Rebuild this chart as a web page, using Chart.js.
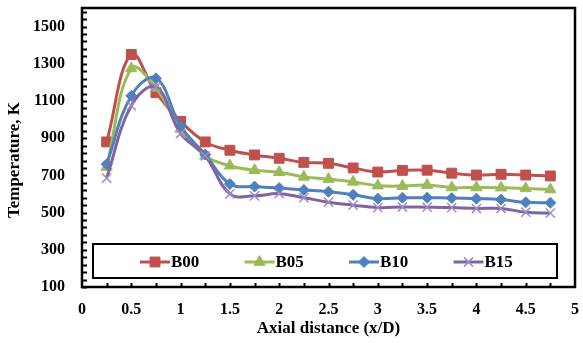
<!DOCTYPE html>
<html><head><meta charset="utf-8">
<script src="https://cdn.jsdelivr.net/npm/chart.js@4.4.0/dist/chart.umd.min.js"></script>
<style>html,body{margin:0;padding:0;background:#fff}</style>
</head><body>
<canvas id="c" width="583" height="343"></canvas>
<script>
// ---- data ----
const xValues = [0.25,0.5,0.75,1,1.25,1.5,1.75,2,2.25,2.5,2.75,3,3.25,3.5,3.75,4,4.25,4.5,4.75];
const B00 = [880,1350,1145,990,880,835,810,792,770,765,740,718,727,728,712,702,706,702,697];
const B05 = [745,1275,1170,950,805,752,728,717,692,680,665,645,643,648,635,635,634,630,624];
const B10 = [760,1128,1222,965,812,654,640,632,622,612,596,575,580,580,578,575,570,555,553];
const B15 = [686,1075,1175,925,805,601,590,602,580,556,540,527,530,529,527,522,522,502,497];
const seriesNames = ['B00','B05','B10','B15'];
const xTickLabels = [0,0.5,1,1.5,2,2.5,3,3.5,4,4.5,5];
const yTickLabels = [100,300,500,700,900,1100,1300,1500];
const xTitle = 'Axial distance (x/D)';
const yTitle = 'Temperature, K';

const FONT = 'Liberation Serif';
const toPts = arr => arr.map((v,i)=>({x:xValues[i], y:v}));

const styles = [
  {color:'#C0504D', pointStyle:'rect', radius:7, bw:1, pc:'#C0504D'},
  {color:'#9BBB59', pointStyle:'triangle', radius:6.5, bw:1, pc:'#9BBB59'},
  {color:'#4F81BD', pointStyle:'rectRot', radius:5.5, bw:1, pc:'#4F81BD'},
  {color:'#8064A2', pointStyle:'crossRot', radius:6.5, bw:1.5, pc:'#A08CC8'}
];
const allSeries = [B00,B05,B10,B15];

const datasets = allSeries.map((s,i)=>({
  label: seriesNames[i],
  data: toPts(s),
  borderColor: styles[i].color,
  backgroundColor: styles[i].color,
  borderWidth: 3,
  tension: 0.4,
  pointStyle: styles[i].pointStyle,
  pointRadius: styles[i].radius,
  pointBorderWidth: styles[i].bw,
  pointBackgroundColor: styles[i].pc,
  pointBorderColor: styles[i].pc,
  pointHoverRadius: styles[i].radius
})).reverse();

const framePlugin = {
  id:'frame',
  beforeDatasetsDraw(chart){
    const {ctx, chartArea:a, scales:{x,y}} = chart;
    ctx.save();
    ctx.strokeStyle = '#000';
    ctx.lineWidth = 2;
    for (let v=100; v<1600; v+=40){
      const py = Math.round(y.getPixelForValue(v))+0.5;
      ctx.beginPath(); ctx.moveTo(a.left, py); ctx.lineTo(a.left+5, py); ctx.stroke();
    }
    for (let v=0.25; v<5; v+=0.25){
      const px = Math.round(x.getPixelForValue(v))+0.5;
      ctx.beginPath(); ctx.moveTo(px, a.bottom); ctx.lineTo(px, a.bottom-4); ctx.stroke();
    }
    ctx.lineWidth = 2.5;
    ctx.strokeRect(a.left, a.top, a.right-a.left, a.bottom-a.top);
    ctx.fillStyle = '#000';
    ctx.font = 'bold 17px "'+FONT+'"';
    ctx.textAlign = 'center'; ctx.textBaseline = 'middle';
    ctx.translate(15, 160); ctx.rotate(-Math.PI/2);
    ctx.fillText(yTitle, 0, 0);
    ctx.restore();
  },
  afterDatasetsDraw(chart){
    const {ctx} = chart;
    ctx.save();
    ctx.fillStyle = '#fff';
    ctx.strokeStyle = '#000';
    ctx.lineWidth = 2;
    ctx.fillRect(93,244,464,34);
    ctx.strokeRect(93,244,464,34);
    const cy = 262;
    ctx.font = 'bold 17px "'+FONT+'"';
    ctx.textAlign = 'left'; ctx.textBaseline = 'middle';
    const ds = chart.data.datasets.slice().reverse();
    ds.forEach((d,i)=>{
      const x0 = 140 + i*104.5;
      ctx.strokeStyle = d.borderColor; ctx.lineWidth = 3;
      ctx.beginPath(); ctx.moveTo(x0, cy); ctx.lineTo(x0+30, cy); ctx.stroke();
      ctx.fillStyle = d.pointBackgroundColor; ctx.strokeStyle = d.pointBorderColor;
      ctx.lineWidth = d.pointBorderWidth;
      Chart.helpers.drawPoint(ctx, {pointStyle:d.pointStyle, radius:d.pointRadius, rotation:0, borderWidth:d.pointBorderWidth}, x0+15, cy);
      ctx.fillStyle = '#000';
      ctx.fillText(d.label, x0+31, cy+1);
    });
    ctx.restore();
  }
};

new Chart(document.getElementById('c'), {
  type:'line',
  data:{datasets},
  options:{
    responsive:false,
    animation:false,
    devicePixelRatio:1,
    layout:{padding:{top:5,right:6,left:0,bottom:0}},
    plugins:{legend:{display:false}, tooltip:{enabled:false}},
    scales:{
      x:{
        type:'linear', min:0, max:5,
        afterBuildTicks(s){ s.ticks = xTickLabels.map(v=>({value:v})); },
        afterFit(s){ s.height = 56; s.paddingLeft = 0; s.paddingRight = 0; },
        grid:{display:false, drawTicks:false},
        border:{display:false},
        ticks:{color:'#000', padding:13, maxRotation:0, autoSkip:false, callback:v=>String(v), font:{family:FONT, size:16, weight:'bold'}},
        title:{display:true, text:xTitle, color:'#000', padding:{top:0,bottom:4}, font:{family:FONT, size:17, weight:'bold'}}
      },
      y:{
        type:'linear', min:100, max:1600,
        afterBuildTicks(s){ s.ticks = yTickLabels.map(v=>({value:v})); },
        afterFit(s){ s.width = 82; s.paddingTop = 0; s.paddingBottom = 0; },
        grid:{display:false, drawTicks:false},
        border:{display:false},
        ticks:{color:'#000', padding:17, autoSkip:false, callback:v=>String(v), font:{family:FONT, size:16, weight:'bold'}}
      }
    }
  },
  plugins:[framePlugin]
});
</script>
</body></html>
